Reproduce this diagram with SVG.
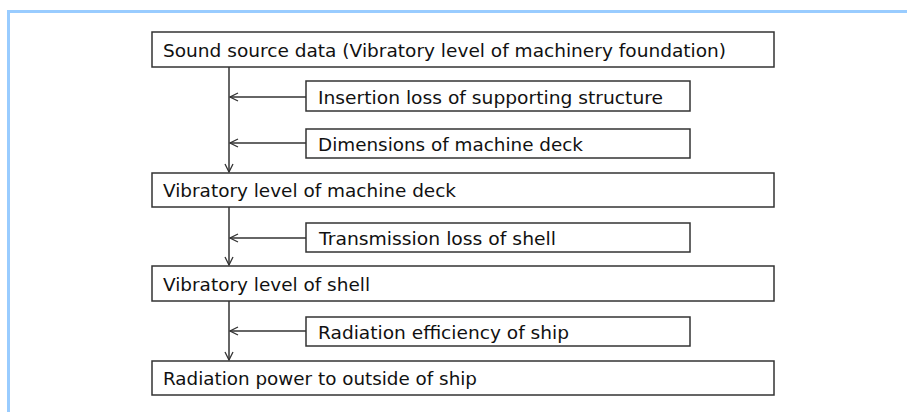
<svg xmlns="http://www.w3.org/2000/svg" width="907" height="412" viewBox="0 0 907 412">
<defs>
<style>
.box{fill:#fff;stroke:#333;stroke-width:1.5}
.t{font-family:"DejaVu Sans","Liberation Sans",Arial,sans-serif;font-size:18px;fill:#111}
.c{stroke:#333;stroke-width:1.5;fill:none}
</style>
<marker id="ah" viewBox="0 0 10 10" refX="9" refY="5" markerWidth="10" markerHeight="10" markerUnits="userSpaceOnUse" orient="auto">
<path d="M1,1 L9,5 L1,9" fill="none" stroke="#333" stroke-width="1.3"/>
</marker>
</defs>
<rect width="907" height="412" fill="#fff"/>
<path d="M8.5,412 V11.5 H907" fill="none" stroke="#99ccff" stroke-width="3"/>
<g id="connectors">
<line class="c" x1="229" y1="67" x2="229" y2="172" marker-end="url(#ah)"/>
<line class="c" x1="229" y1="207" x2="229" y2="265" marker-end="url(#ah)"/>
<line class="c" x1="229" y1="301" x2="229" y2="360" marker-end="url(#ah)"/>
<line class="c" x1="306" y1="97" x2="230" y2="97" marker-end="url(#ah)"/>
<line class="c" x1="306" y1="143" x2="230" y2="143" marker-end="url(#ah)"/>
<line class="c" x1="306" y1="238" x2="230" y2="238" marker-end="url(#ah)"/>
<line class="c" x1="306" y1="331" x2="230" y2="331" marker-end="url(#ah)"/>
</g>
<g id="n1"><rect class="box" x="152" y="32" width="622" height="35"/><text class="t" x="163" y="57" textLength="563" lengthAdjust="spacingAndGlyphs">Sound source data (Vibratory level of machinery foundation)</text></g>
<g id="n2"><rect class="box" x="306" y="81" width="384" height="30"/><text class="t" x="318" y="103.5" textLength="345" lengthAdjust="spacingAndGlyphs">Insertion loss of supporting structure</text></g>
<g id="n3"><rect class="box" x="306" y="129" width="384" height="29"/><text class="t" x="318" y="150.5" textLength="265" lengthAdjust="spacingAndGlyphs">Dimensions of machine deck</text></g>
<g id="n4"><rect class="box" x="152" y="173" width="622" height="34"/><text class="t" x="163" y="197" textLength="293" lengthAdjust="spacingAndGlyphs">Vibratory level of machine deck</text></g>
<g id="n5"><rect class="box" x="306" y="223" width="384" height="29"/><text class="t" x="319" y="244.5" textLength="237" lengthAdjust="spacingAndGlyphs">Transmission loss of shell</text></g>
<g id="n6"><rect class="box" x="152" y="266" width="622" height="35"/><text class="t" x="163" y="290.5" textLength="207" lengthAdjust="spacingAndGlyphs">Vibratory level of shell</text></g>
<g id="n7"><rect class="box" x="306" y="317" width="384" height="29"/><text class="t" x="318" y="338.5" textLength="251" lengthAdjust="spacingAndGlyphs">Radiation efficiency of ship</text></g>
<g id="n8"><rect class="box" x="152" y="361" width="622" height="34"/><text class="t" x="163" y="385" textLength="314" lengthAdjust="spacingAndGlyphs">Radiation power to outside of ship</text></g>
</svg>
